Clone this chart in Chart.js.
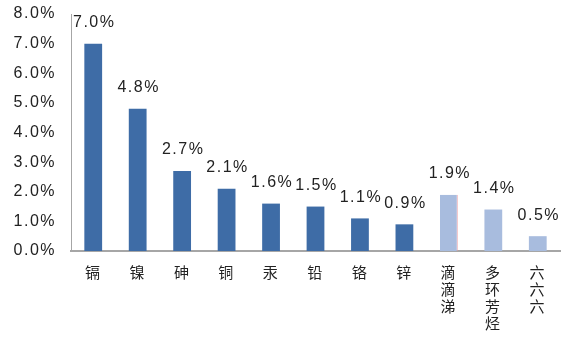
<!DOCTYPE html>
<html>
<head>
<meta charset="utf-8">
<script src="https://cdn.jsdelivr.net/npm/chart.js@4"></script>
<style>
  html, body { margin: 0; padding: 0; background: #fff; }
  #wrap { width: 568px; height: 339px; }
</style>
</head>
<body>
<div id="wrap"><canvas id="c"></canvas></div>
<script>
// categories (multi-char ones are stacked vertically)
const categories = [
  '镉', '镍', '砷', '铜', '汞', '铅', '铬', '锌',
  ['滴', '滴', '涕'], ['多', '环', '芳', '烃'], ['六', '六', '六']
];
// share in %
const values = [7.0, 4.8, 2.7, 2.1, 1.6, 1.5, 1.1, 0.9, 1.9, 1.4, 0.5];
// which bars are the light (organic) ones
const isOrganic = [false, false, false, false, false, false, false, false, true, true, true];

const DARK = '#3e6ca6';
const LIGHT = '#a8bcde';
const NUM_FONT = '"Liberation Sans", Arial, sans-serif';

const pct = v => v.toFixed(1) + '%';

// wider letter spacing like the original numbers
const spacing = {
  id: 'spacing',
  beforeDraw(chart) { chart.ctx.letterSpacing = '1.5px'; }
};

// value labels above each bar
const barLabels = {
  id: 'barLabels',
  afterDatasetsDraw(chart) {
    const ctx = chart.ctx;
    const meta = chart.getDatasetMeta(0);
    ctx.save();
    ctx.letterSpacing = '1.5px';
    ctx.font = '16px ' + NUM_FONT;
    ctx.fillStyle = '#222';
    ctx.textAlign = 'center';
    ctx.textBaseline = 'middle';
    meta.data.forEach((bar, i) => {
      ctx.fillText(pct(values[i]), bar.x + 1, bar.y - 21);
    });
    ctx.restore();
  }
};

new Chart(document.getElementById('c'), {
  type: 'bar',
  data: {
    labels: categories,
    datasets: [{
      data: values,
      backgroundColor: isOrganic.map(o => o ? LIGHT : DARK),
      borderColor: isOrganic.map((o, i) => i === 8 ? '#e8a0a8' : (o ? LIGHT : DARK)),
      borderWidth: isOrganic.map((o, i) => i === 8 ? { right: 1 } : 0),
      categoryPercentage: 1,
      barPercentage: 0.4
    }]
  },
  options: {
    responsive: true,
    maintainAspectRatio: false,
    animation: false,
    layout: { padding: { top: 14, right: 8, left: 0, bottom: 0 } },
    plugins: {
      legend: { display: false },
      tooltip: { enabled: false }
    },
    scales: {
      x: {
        grid: { display: false, drawTicks: false },
        border: { color: '#a6a6a6', width: 2 },
        ticks: {
          color: '#222',
          padding: 13,
          maxRotation: 0,
          autoSkip: false,
          font: { family: '"Noto Sans CJK SC", sans-serif', size: 15, lineHeight: 1.13 }
        },
        afterFit(scale) {
          scale.height = 88;
          scale.paddingTop = 0;
        }
      },
      y: {
        min: 0,
        max: 8,
        grid: { display: false, drawTicks: false },
        border: { color: '#a6a6a6', width: 1 },
        ticks: {
          stepSize: 1,
          color: '#222',
          padding: 15,
          font: { family: NUM_FONT, size: 16 },
          callback: v => pct(v)
        },
        afterFit(scale) {
          scale.width = 71;
          scale.paddingTop = 0;
        }
      }
    }
  },
  plugins: [spacing, barLabels]
});
</script>
</body>
</html>
